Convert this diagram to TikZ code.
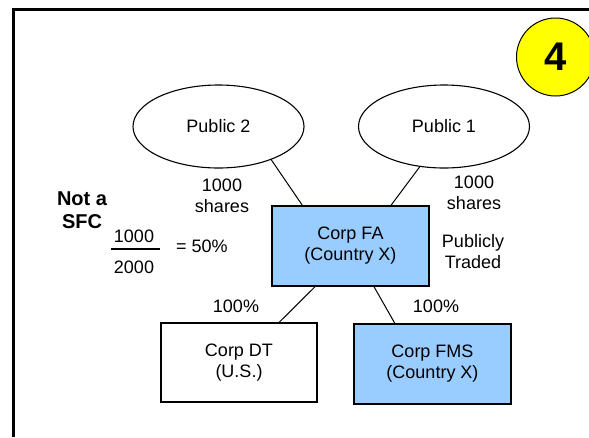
\documentclass[tikz,border=0pt]{standalone}
\usepackage{fontspec}
\setmainfont{Liberation Sans}
\usetikzlibrary{shapes.geometric}
\definecolor{boxblue}{HTML}{99CCFF}
\definecolor{badge}{HTML}{FFFF00}
\tikzset{
  lbl/.style={font=\fontsize{18}{21}\selectfont, align=center, inner sep=0pt},
  corp/.style={lbl, draw=black, line width=1.2pt, rectangle, minimum width=157pt, minimum height=80pt, outer sep=0pt},
  pub/.style={lbl, draw=black, line width=1.1pt, ellipse, minimum width=171pt, minimum height=83pt, outer sep=0pt},
  link/.style={draw=black, line width=1pt}
}
\begin{document}
\begin{tikzpicture}[x=1pt,y=-1pt]
\useasboundingbox (0,0) rectangle (589,437);
\clip (0,0) rectangle (589,437);
% frame
\draw[line width=2.7pt] (13.3,437) -- (13.3,9.7) -- (589,9.7);
% badge
\node[circle, draw=black, line width=1pt, fill=badge, minimum size=78pt, inner sep=0pt, font=\fontsize{40}{40}\bfseries\selectfont] (badge) at (555.5,57) {4};
% public ellipses
\node[pub] (p2) at (218.5,126.5) {Public 2};
\node[pub] (p1) at (444,126.5) {Public 1};
% companies
\node[corp, fill=boxblue] (fa) at (350.5,246) {Corp FA\\(Country X)};
\node[corp, fill=white, minimum width=156pt, minimum height=79pt] (dt) at (239,362.5) {Corp DT\\(U.S.)};
\node[corp, fill=boxblue] (fms) at (432.5,364) {Corp FMS\\(Country X)};
% connectors
\draw[link] (p2.-32) -- (fa.140.5);
\draw[link] (p1.239) -- (fa.45.4);
\draw[link] (fa.229.3) -- (dt.45.4);
\draw[link] (fa.300) -- (fms.133);
% labels
\node[lbl] (sh2) at (222,196) {1000\\shares};
\node[lbl] (sh1) at (474,193) {1000\\shares};
\node[lbl] (pt) at (473,252) {Publicly\\Traded};
\node[lbl] (pc1) at (236,306) {100\%};
\node[lbl] (pc2) at (436,306) {100\%};
\node[lbl, font=\fontsize{20}{23}\bfseries\selectfont] (nsfc) at (82,210) {Not a\\SFC};
\node[lbl] (num) at (134,236) {1000};
\node[lbl] (den) at (134,267.5) {2000};
\draw[line width=2pt] (111,249) -- (160,249);
\node[lbl] (eq) at (202,246) {= 50\%};
\end{tikzpicture}
\end{document}
